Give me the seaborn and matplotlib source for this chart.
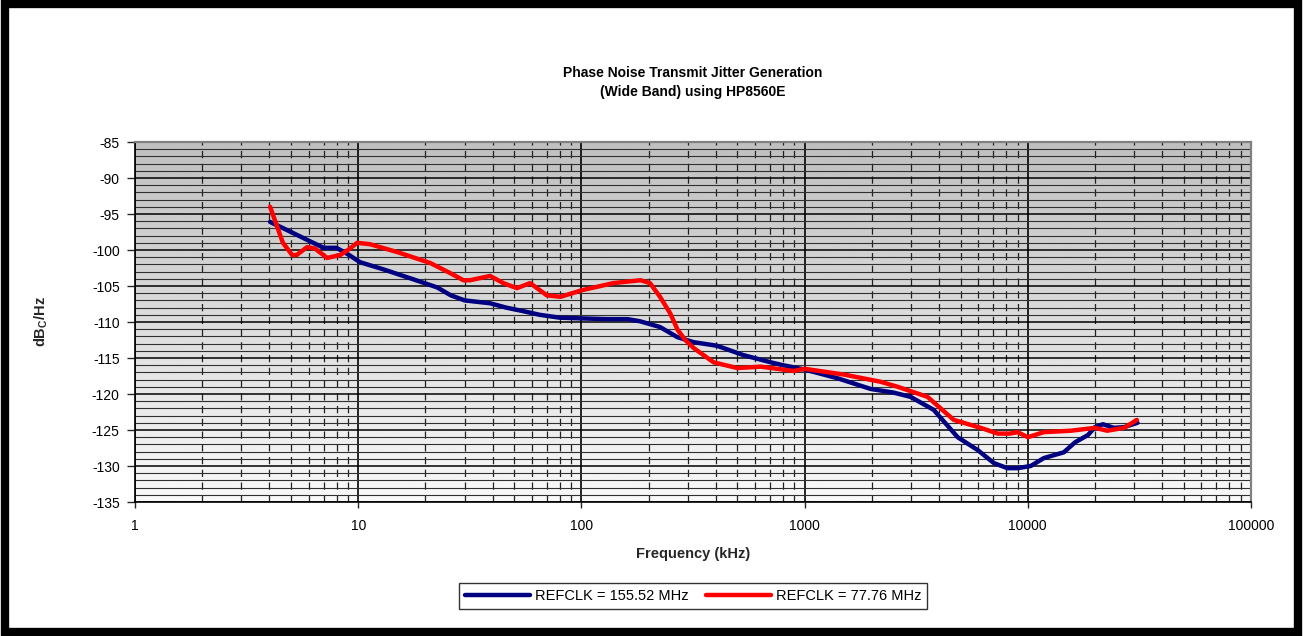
import numpy as np
import pandas as pd
import seaborn as sns
import matplotlib.pyplot as plt
from matplotlib.patches import Rectangle
from matplotlib.ticker import LogLocator, FixedLocator, NullFormatter

# REFCLK = 155.52 MHz
freq_155 = [4.03, 5.0, 6.0, 7.0, 8.0, 9.0, 10.2, 13, 17, 22.6, 26, 30, 39, 46, 55, 65, 80,
            100, 130, 161, 183, 225, 269, 318, 405, 532, 705, 800, 1000, 1400, 1977, 2500,
            2985, 3787, 4850, 5970, 7050, 8100, 9000, 10300, 11800, 14500, 16300, 18600,
            20000, 21700, 24300, 27000, 31000]
noise_155 = [-96.1, -97.5, -98.7, -99.7, -99.7, -100.6, -101.7, -102.7, -103.9, -105.2, -106.3,
             -107.0, -107.4, -108.0, -108.5, -109.0, -109.4, -109.5, -109.6, -109.6, -109.9,
             -110.7, -112.1, -112.8, -113.3, -114.6, -115.6, -116.0, -116.6, -117.8, -119.3,
             -119.8, -120.4, -122.2, -126.0, -127.8, -129.6, -130.3, -130.3, -130.0, -128.9,
             -128.1, -126.7, -125.7, -124.6, -124.2, -124.7, -124.6, -124.0]

# REFCLK = 77.76 MHz
freq_77 = [4.03, 4.6, 5.06, 5.3, 5.9, 6.4, 7.26, 8.3, 9.0, 9.9, 11.3, 15, 21, 25.8, 29.6, 31.7,
           39, 44.7, 51.4, 58.9, 70, 80.6, 95.6, 100, 139, 184, 203, 225, 250, 270, 292, 318,
           391, 500, 635, 893, 1000, 1500, 2190, 2612, 3556, 4660, 6150, 7330, 8300, 9000,
           10000, 11800, 15600, 20000, 22700, 27000, 30800]
noise_77 = [-94.0, -99.0, -100.7, -100.7, -99.6, -99.8, -101.1, -100.7, -100.0, -99.0, -99.2,
            -100.3, -101.8, -103.2, -104.2, -104.2, -103.6, -104.6, -105.3, -104.6, -106.3,
            -106.5, -105.8, -105.6, -104.6, -104.2, -104.6, -106.5, -108.8, -111.1, -112.5,
            -113.6, -115.6, -116.4, -116.2, -116.8, -116.5, -117.3, -118.3, -119.0, -120.4,
            -123.6, -124.7, -125.5, -125.5, -125.3, -126.0, -125.3, -125.1, -124.7, -125.1,
            -124.7, -123.6]

label_155 = "REFCLK = 155.52 MHz"
label_77 = "REFCLK = 77.76 MHz"
xticks = [1, 10, 100, 1000, 10000, 100000]
yticks = list(range(-135, -84, 5))

df = pd.concat([
    pd.DataFrame({"freq": freq_155, "noise": noise_155, "series": label_155}),
    pd.DataFrame({"freq": freq_77, "noise": noise_77, "series": label_77}),
])

sns.set_style("white")
plt.rcParams["font.family"] = ["Liberation Sans", "DejaVu Sans"]
plt.rcParams["text.color"] = "black"
plt.rcParams["mathtext.fontset"] = "custom"
plt.rcParams["mathtext.bf"] = "Liberation Sans:bold"
plt.rcParams["mathtext.rm"] = "Liberation Sans:bold"
plt.rcParams["mathtext.default"] = "bf"

fig = plt.figure(figsize=(13.03, 6.36), dpi=100)
pos = [135 / 1303, 1 - 502 / 636, (1251 - 135) / 1303, (502 - 142) / 636]

# gradient background behind the plot area
bg = fig.add_axes(pos, zorder=0)
grad = np.linspace(0.75, 0.975, 256).reshape(-1, 1)
bg.imshow(grad, cmap="gray", vmin=0, vmax=1, aspect="auto", extent=[0, 1, 0, 1], origin="upper")
bg.axis("off")

ax = fig.add_axes(pos, zorder=1)
ax.patch.set_alpha(0)

sns.lineplot(data=df, x="freq", y="noise", hue="series", estimator=None, sort=False,
             palette={label_155: "#000080", label_77: "#ff0000"}, linewidth=3.2, ax=ax, zorder=5)

ax.set_xscale("log")
ax.set_xlim(1, 100000)
ax.set_ylim(-135, -85)
ax.xaxis.set_major_locator(FixedLocator(xticks))
ax.set_xticklabels([str(t) for t in xticks])
ax.xaxis.set_minor_locator(LogLocator(base=10, subs=np.arange(2, 10)))
ax.xaxis.set_minor_formatter(NullFormatter())
ax.yaxis.set_major_locator(FixedLocator(yticks))
ax.set_yticklabels([str(t) for t in yticks])
ax.yaxis.set_minor_locator(FixedLocator(range(-135, -84)))

# grid lines, excel style
ax.grid(which="major", axis="x", color="black", linewidth=1.2, zorder=2)
ax.grid(which="minor", axis="x", color="#202020", linewidth=0.9, linestyle=(0, (5.8, 4.4)), zorder=2)
ax.grid(which="major", axis="y", color="black", linewidth=1.1, zorder=2)
ax.grid(which="minor", axis="y", color="#303030", linewidth=0.8, zorder=2)
ax.set_axisbelow(True)

ax.tick_params(axis="y", which="major", direction="out", length=6, width=1, pad=5,
               labelsize=10, left=True, labelcolor="black")
ax.tick_params(axis="y", which="minor", length=0)
ax.tick_params(axis="x", which="major", direction="out", length=4, width=1, pad=8,
               labelsize=10, bottom=True, labelcolor="black")
ax.tick_params(axis="x", which="minor", length=0)

for side in ["left", "bottom"]:
    ax.spines[side].set_color("black")
    ax.spines[side].set_linewidth(1.2)
for side in ["top", "right"]:
    ax.spines[side].set_color("#808080")
    ax.spines[side].set_linewidth(1.6)

ax.set_xlabel("Frequency (kHz)", fontsize=10.5, fontweight="bold", labelpad=10)
ax.set_ylabel(r"dB$_C$/Hz", fontsize=10.5, fontweight="bold", labelpad=30)
ax.set_title("Phase Noise Transmit Jitter Generation\n(Wide Band) using HP8560E",
             fontsize=10, fontweight="bold", pad=33, linespacing=1.5)

handles, labels = ax.get_legend_handles_labels()
ax.get_legend().remove()
fig.legend(handles, labels, loc="center", bbox_to_anchor=(693 / 1303, 1 - 596 / 636), ncol=2,
           frameon=True, fancybox=False, edgecolor="black", fontsize=10.5, handlelength=4.5,
           columnspacing=1.2, borderpad=0.4, handletextpad=0.3)

# thick black frame around the whole chart
fig.patches.append(Rectangle((0.0035, 0.0065), 0.993, 0.987, transform=fig.transFigure,
                             fill=False, edgecolor="black", linewidth=6))

fig.savefig("out.png", dpi=100)
